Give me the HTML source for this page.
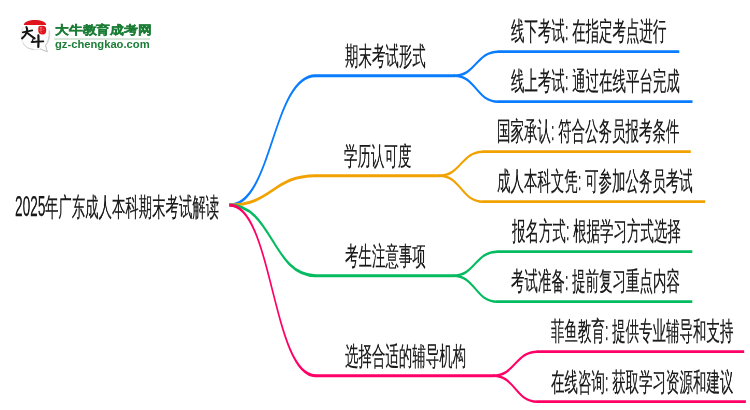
<!DOCTYPE html>
<html><head><meta charset="utf-8"><style>
html,body{margin:0;padding:0;background:#fff;width:750px;height:410px;overflow:hidden;position:relative}
.t{position:absolute;font-family:"Liberation Sans",sans-serif;font-size:26px;line-height:26px;white-space:nowrap;color:#1a1a1a;-webkit-text-stroke:0.25px #1a1a1a;transform:scaleX(0.518);transform-origin:0 0;will-change:transform}
.lg1{position:absolute;left:55.2px;top:24.2px;font-family:"Liberation Sans",sans-serif;font-weight:700;font-size:11.7px;line-height:11.7px;white-space:nowrap;color:#1b7d35;-webkit-text-stroke:0.35px #1b7d35;transform:scaleX(1.15);transform-origin:0 0;will-change:transform}
.lg2{position:absolute;left:55.2px;top:39.9px;font-family:"Liberation Sans",sans-serif;font-weight:700;font-size:10px;line-height:10px;white-space:nowrap;color:#1b7d35;transform:scaleX(1.12);transform-origin:0 0;will-change:transform}
.lgl{position:absolute;left:54px;top:37.8px;width:96px;height:1.8px;background:#d8e6da}
svg{position:absolute;left:0;top:0}
.dg{font-size:29px;line-height:29px;transform:scaleX(0.47)}
.tt{transform:scaleX(0.515)}
</style></head><body>
<svg width="750" height="410" viewBox="0 0 1442.308 410" preserveAspectRatio="none" fill="none" stroke-linecap="butt">
<path d="M441.15,205.0 C523.94,205.0 523.94,75.7 606.73,75.7" stroke="#0a7cff" stroke-width="3.0"/>
<path d="M605.77,75.7 L875.19,75.7" stroke="#0a7cff" stroke-width="3.0"/>
<path d="M873.27,75.7 C915.58,75.7 915.58,51.7 957.88,51.7" stroke="#0a7cff" stroke-width="2.6"/>
<path d="M956.92,51.7 L1306.35,51.7" stroke="#0a7cff" stroke-width="2.8"/>
<path d="M873.27,75.7 C915.58,75.7 915.58,101.7 957.88,101.7" stroke="#0a7cff" stroke-width="2.6"/>
<path d="M956.92,101.7 L1331.73,101.7" stroke="#0a7cff" stroke-width="2.8"/>
<path d="M441.15,205.0 C523.94,205.0 523.94,175.7 606.73,175.7" stroke="#f2a200" stroke-width="3.0"/>
<path d="M605.77,175.7 L846.35,175.7" stroke="#f2a200" stroke-width="3.0"/>
<path d="M844.42,175.7 C886.73,175.7 886.73,151.7 929.04,151.7" stroke="#f2a200" stroke-width="2.6"/>
<path d="M928.08,151.7 L1328.46,151.7" stroke="#f2a200" stroke-width="2.8"/>
<path d="M844.42,175.7 C886.73,175.7 886.73,201.7 929.04,201.7" stroke="#f2a200" stroke-width="2.6"/>
<path d="M928.08,201.7 L1356.15,201.7" stroke="#f2a200" stroke-width="2.8"/>
<path d="M441.15,205.0 C523.94,205.0 523.94,275.7 606.73,275.7" stroke="#05bb60" stroke-width="3.0"/>
<path d="M605.77,275.7 L873.46,275.7" stroke="#05bb60" stroke-width="3.0"/>
<path d="M871.54,275.7 C913.85,275.7 913.85,251.7 956.15,251.7" stroke="#05bb60" stroke-width="2.6"/>
<path d="M955.19,251.7 L1331.35,251.7" stroke="#05bb60" stroke-width="2.8"/>
<path d="M871.54,275.7 C913.85,275.7 913.85,301.7 956.15,301.7" stroke="#05bb60" stroke-width="2.6"/>
<path d="M955.19,301.7 L1331.35,301.7" stroke="#05bb60" stroke-width="2.8"/>
<path d="M441.15,205.0 C523.94,205.0 523.94,375.7 606.73,375.7" stroke="#ff0066" stroke-width="3.0"/>
<path d="M605.77,375.7 L950.38,375.7" stroke="#ff0066" stroke-width="3.0"/>
<path d="M948.46,375.7 C990.77,375.7 990.77,351.7 1033.08,351.7" stroke="#ff0066" stroke-width="2.6"/>
<path d="M1032.12,351.7 L1431.15,351.7" stroke="#ff0066" stroke-width="2.8"/>
<path d="M948.46,375.7 C990.77,375.7 990.77,401.7 1033.08,401.7" stroke="#ff0066" stroke-width="2.6"/>
<path d="M1032.12,401.7 L1434.42,401.7" stroke="#ff0066" stroke-width="2.8"/>
</svg>
<div class="t" style="left:344.6px;top:43.0px">期末考试形式</div>
<div class="t" style="left:511.2px;top:17.5px">线下考试: 在指定考点进行</div>
<div class="t" style="left:510.7px;top:68.1px">线上考试: 通过在线平台完成</div>
<div class="t" style="left:344.0px;top:143.0px">学历认可度</div>
<div class="t" style="left:496.7px;top:118.1px">国家承认: 符合公务员报考条件</div>
<div class="t" style="left:496.7px;top:168.1px">成人本科文凭: 可参加公务员考试</div>
<div class="t" style="left:344.8px;top:242.7px">考生注意事项</div>
<div class="t" style="left:512.0px;top:218.1px">报名方式: 根据学习方式选择</div>
<div class="t" style="left:511.2px;top:268.1px">考试准备: 提前复习重点内容</div>
<div class="t" style="left:344.7px;top:343.0px">选择合适的辅导机构</div>
<div class="t" style="left:551.0px;top:318.1px">菲鱼教育: 提供专业辅导和支持</div>
<div class="t" style="left:551.2px;top:368.6px">在线咨询: 获取学习资源和建议</div>
<div class="t dg" style="left:14.6px;top:191.6px">2025</div>
<div class="t tt" style="left:45.2px;top:194.0px">年广东成人本科期末考试解读</div>
<svg width="750" height="410" viewBox="0 0 750 410" style="position:absolute;left:0;top:0">
<path d="M23.2,27 A14,14.8 0 0 0 40,48.9 L47.3,51.8 L45.6,45.5 A14,14.8 0 0 0 48.8,29" fill="#fdfdfd" stroke="#dedede" stroke-width="0.8"/>
<path d="M49.2,31 Q49.8,39.5 45.6,45.5 L47.3,51.8 L40,48.9" fill="none" stroke="#c8c8c8" stroke-width="1"/>
<path d="M22.9,43.7 Q27.5,49.6 34,49.6" fill="none" stroke="#d2d2d2" stroke-width="1"/>
<path d="M23.8,25 C24.1,18.3 45.9,18.3 46.2,25 Z" fill="#e0141c"/>
<path d="M38.6,26.6 Q39.3,25.6 42.6,25.7 Q46.1,25.8 46.2,29.4 Q46.4,34.2 43,34.5 Q38.9,34.8 38.4,31.8 Q38,28.4 38.6,26.6 Z" fill="#e0141c"/>
<path d="M39.8,27.8 h2.4 M40.9,27.2 v2.2 M39.6,30.2 h2.6 M40.4,31.8 l1.2,0.6 M42.8,28.8 l1,0.8" stroke="#f6b8b8" stroke-width="0.6" fill="none"/>
<g fill="none" stroke="#161616" stroke-linecap="round" stroke-linejoin="round">
<path d="M22.8,32.4 Q27.5,31.4 32.3,30.4" stroke-width="1.7"/>
<path d="M26.4,27.1 Q27.6,28.5 26.8,32 Q25.5,35.8 22.1,38.4" stroke-width="2.1"/>
<path d="M27.1,32.8 Q30.5,35.6 34.6,38.3" stroke-width="2.1"/>
<path d="M33.7,37.6 Q32.8,40 32,42.3 Q34.5,41.8 36.6,41.5" stroke-width="1.3"/>
<path d="M31.5,42 Q37,41.6 43.4,41.3" stroke-width="1.7"/>
<path d="M38.4,35.3 Q38.7,41 38.3,47" stroke-width="2.2"/>
</g>
</svg>
<div class="lg1">大牛教育成考网</div>
<div class="lgl"></div>
<div class="lg2">gz-chengkao.com</div>
</body></html>
